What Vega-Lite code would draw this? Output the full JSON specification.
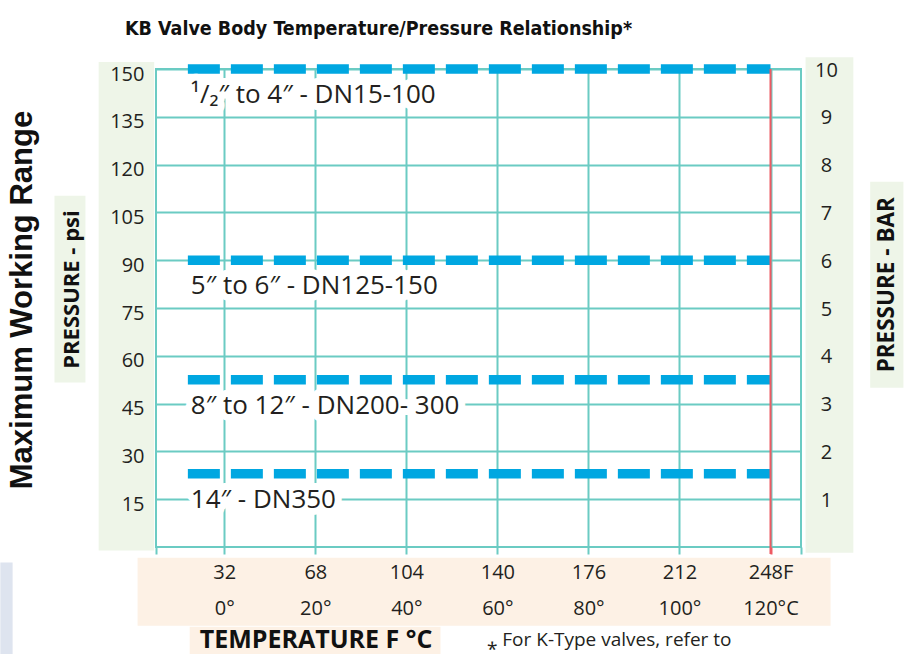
{
  "$schema": "https://vega.github.io/schema/vega-lite/v6.json",
  "width": 645,
  "height": 478,
  "autosize": {"type": "none"},
  "padding": {"left": 156, "top": 69, "right": 106, "bottom": 107},
  "background": "white",
  "title": {
    "text": "KB Valve Body Temperature/Pressure Relationship*",
    "anchor": "start",
    "frame": "group",
    "dx": -31,
    "offset": 3,
    "baseline": "alphabetic",
    "font": "Liberation Sans Narrow, DejaVu Sans Condensed, sans-serif",
    "fontWeight": "bold",
    "fontSize": 19.5,
    "color": "#111111"
  },
  "config": {
    "view": {"stroke": "#6BCBC3", "strokeWidth": 2},
    "font": "Open Sans",
    "text": {"color": "#231F20"}
  },
  "datasets": {
    "series": [
      {"size": "¹/₂″ to 4″ - DN15-100", "psi": 150, "t0": -8, "t1": 120},
      {"size": "5″ to 6″ - DN125-150", "psi": 90, "t0": -8, "t1": 120},
      {"size": "8″ to 12″ - DN200- 300", "psi": 52.5, "t0": -8, "t1": 120},
      {"size": "14″ - DN350", "psi": 23, "t0": -8, "t1": 120}
    ],
    "one": [{}]
  },
  "layer": [
    {
      "data": {"name": "series"},
      "mark": {"type": "rule", "color": "#00A7E1", "strokeWidth": 9.5, "strokeDash": [32, 11], "strokeCap": "butt"},
      "encoding": {
        "x": {
          "field": "t0",
          "type": "quantitative",
          "scale": {"domain": [-15, 126.7], "nice": false, "zero": false},
          "axis": {
            "orient": "bottom",
            "title": null,
            "zindex": 0,
            "domain": false,
            "grid": true,
            "gridColor": "#6BCBC3",
            "gridWidth": 2,
            "ticks": false,
            "labels": false,
            "values": [0, 20, 40, 60, 80, 100, 120]
          }
        },
        "x2": {"field": "t1"},
        "y": {
          "field": "psi",
          "type": "quantitative",
          "scale": {"domain": [0, 150], "nice": false, "zero": false},
          "axis": {
            "orient": "left",
            "title": null,
            "zindex": 0,
            "domain": false,
            "ticks": false,
            "labels": false,
            "grid": true,
            "gridColor": "#6BCBC3",
            "gridWidth": 2,
            "values": [15, 30, 45, 60, 75, 90, 105, 120, 135, 150]
          }
        }
      }
    },
    {
      "data": {"name": "one"},
      "mark": {"type": "rect", "fill": "#EEF5E8"},
      "encoding": {
        "x": {"datum": -27.6, "type": "quantitative", "axis": null},
        "x2": {"datum": -15.4},
        "y": {"datum": 152.2, "type": "quantitative", "axis": null},
        "y2": {"datum": -1.07}
      }
    },
    {
      "data": {"name": "one"},
      "mark": {"type": "rect", "fill": "#EEF5E8"},
      "encoding": {
        "x": {"datum": 127.7, "type": "quantitative", "axis": null},
        "x2": {"datum": 138.2},
        "y": {"datum": 153.7, "type": "quantitative", "axis": null},
        "y2": {"datum": -1.8}
      }
    },
    {
      "data": {"name": "one"},
      "mark": {"type": "rect", "fill": "#FDF1E5"},
      "encoding": {
        "x": {"datum": -19.05, "type": "quantitative", "axis": null},
        "x2": {"datum": 133.2},
        "y": {"datum": -3.36, "type": "quantitative", "axis": null},
        "y2": {"datum": -24.7}
      }
    },
    {
      "data": {"name": "one"},
      "mark": {"type": "rect", "fill": "#EEF5E8"},
      "encoding": {
        "x": {"datum": -37.3, "type": "quantitative", "axis": null},
        "x2": {"datum": -30.5},
        "y": {"datum": 110.2, "type": "quantitative", "axis": null},
        "y2": {"datum": 51.6}
      }
    },
    {
      "data": {"name": "one"},
      "mark": {"type": "rect", "fill": "#EEF5E8"},
      "encoding": {
        "x": {"datum": 141.9, "type": "quantitative", "axis": null},
        "x2": {"datum": 149.2},
        "y": {"datum": 114.6, "type": "quantitative", "axis": null},
        "y2": {"datum": 50.0}
      }
    },
    {
      "data": {"name": "one"},
      "mark": {"type": "rect", "fill": "#FDF1E5"},
      "encoding": {
        "x": {"datum": -7.6, "type": "quantitative", "axis": null},
        "x2": {"datum": 47.5},
        "y": {"datum": -25.0, "type": "quantitative", "axis": null},
        "y2": {"datum": -33.6}
      }
    },
    {
      "data": {"name": "one"},
      "mark": {"type": "rect", "fill": "#DEE4EF"},
      "encoding": {
        "x": {"datum": -49.2, "type": "quantitative", "axis": null},
        "x2": {"datum": -46.5},
        "y": {"datum": -4.9, "type": "quantitative", "axis": null},
        "y2": {"datum": -33.6}
      }
    },
    {
      "data": {"name": "one"},
      "mark": {"type": "rule", "color": "#EE5A63", "strokeWidth": 2},
      "encoding": {
        "x": {"datum": 120, "type": "quantitative", "axis": null},
        "y": {"datum": -2.2, "type": "quantitative", "axis": null},
        "y2": {"datum": 150}
      }
    },
    {
      "data": {"name": "series"},
      "mark": {"type": "text", "align": "left", "baseline": "middle", "dx": 3, "dy": 26, "fontSize": 26, "font": "Open Sans", "fill": "white", "stroke": "white", "strokeWidth": 14, "strokeJoin": "round"},
      "encoding": {
        "x": {"field": "t0", "type": "quantitative", "axis": null},
        "y": {
          "field": "psi",
          "type": "quantitative",
          "axis": {
            "orient": "right",
            "title": null,
            "zindex": 1,
            "domain": false,
            "ticks": false,
            "grid": false,
            "values": [15, 30, 45, 60, 75, 90, 105, 120, 135, 150],
            "labelExpr": "format(datum.value / 15, 'd')",
            "labelFont": "Open Sans",
            "labelFontSize": 20,
            "labelColor": "#231F20",
            "labelAlign": "center",
            "labelPadding": 25,
            "labelOffset": 1,
            "labelOverlap": false,
            "labelBound": false
          }
        },
        "text": {"field": "size"}
      }
    },
    {
      "data": {"name": "series"},
      "mark": {"type": "text", "align": "left", "baseline": "middle", "dx": 3, "dy": 26, "fontSize": 26, "font": "Open Sans", "color": "#231F20"},
      "encoding": {
        "x": {
          "field": "t0",
          "type": "quantitative",
          "axis": {
            "orient": "bottom",
            "title": null,
            "zindex": 1,
            "domain": false,
            "grid": false,
            "ticks": true,
            "tickSize": 7,
            "tickColor": {"condition": {"test": "datum.value == 120", "value": "#EE5A63"}, "value": "#6BCBC3"},
            "tickWidth": 2,
            "values": [-15, 0, 20, 40, 60, 80, 100, 120, 126.7],
            "labelExpr": "datum.value < -1 || datum.value > 121 ? '' : datum.value == 120 ? ['248F', '120°C'] : [format(datum.value * 1.8 + 32, 'd'), datum.value + '°']",
            "labelFont": "Open Sans",
            "labelFontSize": 20,
            "labelColor": "#231F20",
            "labelLineHeight": 36,
            "labelBaseline": "top",
            "labelPadding": 8,
            "labelFlush": false,
            "labelOverlap": false,
            "labelBound": false
          }
        },
        "y": {
          "field": "psi",
          "type": "quantitative",
          "axis": {
            "orient": "left",
            "title": null,
            "zindex": 1,
            "domain": false,
            "ticks": false,
            "grid": false,
            "values": [15, 30, 45, 60, 75, 90, 105, 120, 135, 150],
            "labelFont": "Open Sans",
            "labelFontSize": 20,
            "labelColor": "#231F20",
            "labelPadding": 12,
            "labelOffset": 5,
            "labelOverlap": false,
            "labelBound": false
          }
        },
        "text": {"field": "size"}
      }
    },
    {
      "data": {"name": "one"},
      "mark": {"type": "text", "text": "Maximum Working Range", "angle": 270, "align": "center", "baseline": "middle", "font": "Liberation Sans", "fontWeight": "bold", "fontSize": 31, "color": "#111111"},
      "encoding": {
        "x": {"datum": -44.3, "type": "quantitative", "axis": null},
        "y": {"datum": 77.5, "type": "quantitative", "axis": null}
      }
    },
    {
      "data": {"name": "one"},
      "mark": {"type": "text", "text": "PRESSURE - psi", "angle": 270, "align": "center", "baseline": "middle", "font": "Open Sans", "fontWeight": "bold", "fontSize": 22, "color": "#111111"},
      "encoding": {
        "x": {"datum": -33.5, "type": "quantitative", "axis": null},
        "y": {"datum": 80.8, "type": "quantitative", "axis": null}
      }
    },
    {
      "data": {"name": "one"},
      "mark": {"type": "text", "text": "PRESSURE - BAR", "angle": 270, "align": "center", "baseline": "middle", "font": "Open Sans", "fontWeight": "bold", "fontSize": 22.5, "color": "#111111"},
      "encoding": {
        "x": {"datum": 145.7, "type": "quantitative", "axis": null},
        "y": {"datum": 82.3, "type": "quantitative", "axis": null}
      }
    },
    {
      "data": {"name": "one"},
      "mark": {"type": "text", "text": "TEMPERATURE  F °C", "align": "left", "baseline": "middle", "font": "Open Sans", "fontWeight": "bold", "fontSize": 25, "color": "#111111"},
      "encoding": {
        "x": {"datum": -5.4, "type": "quantitative", "axis": null},
        "y": {"datum": -29.3, "type": "quantitative", "axis": null}
      }
    },
    {
      "data": {"name": "one"},
      "mark": {"type": "text", "text": "⁎ For K-Type valves, refer to", "align": "left", "baseline": "middle", "font": "Open Sans", "fontSize": 19, "color": "#231F20"},
      "encoding": {
        "x": {"datum": 57.8, "type": "quantitative", "axis": null},
        "y": {"datum": -29.3, "type": "quantitative", "axis": null}
      }
    }
  ],
  "resolve": {"axis": {"x": "independent", "y": "independent"}}
}
